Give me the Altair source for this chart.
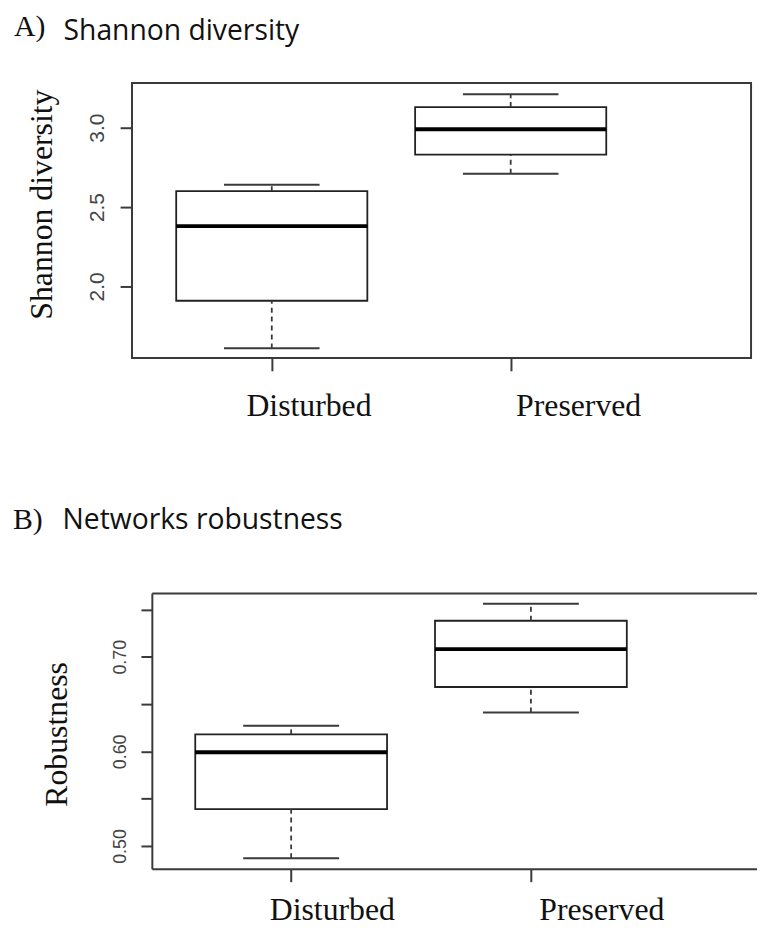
import altair as alt
import pandas as pd

# ---------------- data ----------------
groups = ["Disturbed", "Preserved"]
positions = [1, 2]

shannon_min = [1.61, 2.71]
shannon_q1 = [1.91, 2.83]
shannon_med = [2.38, 2.99]
shannon_q3 = [2.60, 3.13]
shannon_max = [2.64, 3.21]

robust_min = [0.487, 0.641]
robust_q1 = [0.539, 0.668]
robust_med = [0.599, 0.708]
robust_q3 = [0.618, 0.738]
robust_max = [0.627, 0.756]

shannon_ticks = [2.0, 2.5, 3.0]
robust_ticks = [0.50, 0.55, 0.60, 0.65, 0.70, 0.75]

panel_tags = ["A)", "B)"]
panel_titles = ["Shannon diversity", "Networks robustness"]
y_titles = ["Shannon diversity", "Robustness"]

# ---------------- style ----------------
SERIF = "Liberation Serif"
SANS = "Liberation Sans"
TITLE_SANS = "Open Sans"
LINE = "#3a3a3a"
TEXT = "#111111"

x_label_expr = " : ".join(
    f"datum.value == {p} ? '{g}'" for p, g in zip(positions, groups)
) + " : ''"


def make_panel(vmin, q1, med, q3, vmax, tag, title, ytitle, xdomain, ydomain,
               width, height, yticks, ylabel_expr, ylabel_size, ylabel_pad,
               ytick_size, tag_dx, tag_dy, title_dx, title_dy, ytitle_x,
               ytitle_y, xlabel_pad, xoffsets, framed):
    df = pd.DataFrame({"group": groups, "pos": positions, "lo": vmin,
                       "q1": q1, "med": med, "q3": q3, "hi": vmax})
    base = alt.Chart(df).transform_calculate(
        left="datum.pos - 0.4", right="datum.pos + 0.4",
        capl="datum.pos - 0.2", capr="datum.pos + 0.2")
    xs = alt.Scale(domain=xdomain, nice=False, zero=False)
    ys = alt.Scale(domain=ydomain, nice=False, zero=False)

    x_axis = alt.Axis(
        orient="bottom", values=positions, labelExpr=x_label_expr, title=None,
        grid=False, domain=not framed, domainColor=LINE, domainWidth=2,
        tickSize=13, tickWidth=2, tickColor=LINE, labelFont=SERIF,
        labelFontSize=32, labelColor=TEXT, labelPadding=xlabel_pad,
        labelBaseline="alphabetic", labelAlign="center", labelFlush=False,
        labelOffset={"condition": {"test": f"datum.value == {positions[0]}",
                                   "value": xoffsets[0]},
                     "value": xoffsets[1]})
    y_axis = alt.Axis(
        orient="left", values=yticks, labelExpr=ylabel_expr, title=ytitle,
        titleFont=SERIF, titleFontSize=32, titleFontWeight="normal",
        titleColor=TEXT, titleAngle=270, titleAlign="center",
        titleBaseline="alphabetic", titleX=ytitle_x, titleY=ytitle_y,
        labelAngle=270, labelAlign="center", labelBaseline="alphabetic",
        labelFont=SANS, labelFontSize=ylabel_size, labelColor="#444444",
        labelPadding=ylabel_pad, labelOverlap=False, tickSize=ytick_size,
        tickWidth=2, tickColor=LINE, domain=not framed, domainColor=LINE,
        domainWidth=2, grid=False)

    x_other = x_axis if framed else None
    top_axis = x_axis if framed else alt.Axis(
        orient="top", labels=False, ticks=False, domain=True, domainColor=LINE,
        domainWidth=2, title=None, grid=False)

    box = base.mark_rect(fill="white", stroke="#222222", strokeWidth=1.8).encode(
        x=alt.X("left:Q", scale=xs, axis=x_axis),
        x2="right:Q",
        y=alt.Y("q1:Q", scale=ys, axis=y_axis),
        y2="q3:Q")
    median = base.mark_rule(color="black", strokeWidth=4).encode(
        x=alt.X("left:Q", scale=xs, axis=x_other), x2="right:Q",
        y=alt.Y("med:Q", scale=ys, axis=y_axis))
    whisk_hi = base.mark_rule(color=LINE, strokeWidth=1.8, strokeDash=[5, 4]).encode(
        x=alt.X("pos:Q", scale=xs, axis=x_other),
        y=alt.Y("q3:Q", scale=ys, axis=y_axis), y2="hi:Q")
    whisk_lo = base.mark_rule(color=LINE, strokeWidth=1.8, strokeDash=[5, 4]).encode(
        x=alt.X("pos:Q", scale=xs, axis=x_other),
        y=alt.Y("lo:Q", scale=ys, axis=y_axis), y2="q1:Q")
    cap_hi = base.mark_rule(color=LINE, strokeWidth=2).encode(
        x=alt.X("capl:Q", scale=xs, axis=top_axis), x2="capr:Q",
        y=alt.Y("hi:Q", scale=ys, axis=y_axis))
    cap_lo = base.mark_rule(color=LINE, strokeWidth=2).encode(
        x=alt.X("capl:Q", scale=xs, axis=x_other), x2="capr:Q",
        y=alt.Y("lo:Q", scale=ys, axis=y_axis))

    tag_text = alt.Chart(pd.DataFrame({"t": [tag]})).mark_text(
        align="left", baseline="alphabetic", font=SERIF, fontSize=30,
        color=TEXT).encode(x=alt.value(tag_dx), y=alt.value(tag_dy), text="t:N")
    title_text = alt.Chart(pd.DataFrame({"t": [title]})).mark_text(
        align="left", baseline="alphabetic", font=TITLE_SANS, fontSize=28.5,
        color=TEXT).encode(x=alt.value(title_dx), y=alt.value(title_dy), text="t:N")

    if framed:
        view = alt.ViewBackground(stroke=LINE, strokeWidth=2)
    else:
        view = alt.ViewBackground(strokeOpacity=0)

    layer = alt.layer(box, whisk_hi, whisk_lo, cap_hi, cap_lo, median,
                      tag_text, title_text).properties(
        width=width, height=height, view=view)
    if not framed:
        layer = layer.resolve_axis(x="independent")
    return layer


def spacer():
    # tiny invisible first column so that each panel is placed by its left bound
    return alt.Chart(pd.DataFrame({"t": [""]})).mark_text().encode(
        text="t:N").properties(width=1, height=1,
                               view=alt.ViewBackground(strokeOpacity=0))


panel_a = make_panel(
    shannon_min, shannon_q1, shannon_med, shannon_q3, shannon_max,
    panel_tags[0], panel_titles[0], y_titles[0],
    xdomain=[0.415, 3.006], ydomain=[1.55, 3.281], width=624, height=277,
    yticks=shannon_ticks, ylabel_expr="format(datum.value, '.1f')",
    ylabel_size=21, ylabel_pad=17, ytick_size=12,
    tag_dx=-119, tag_dy=-47, title_dx=-69, title_dy=-43,
    ytitle_x=-81, ytitle_y=122, xlabel_pad=45, xoffsets=[37, 68], framed=True)

panel_b = make_panel(
    robust_min, robust_q1, robust_med, robust_q3, robust_max,
    panel_tags[1], panel_titles[1], y_titles[1],
    xdomain=[0.419, 2.943], ydomain=[0.4759, 0.7673], width=610, height=278,
    yticks=robust_ticks,
    ylabel_expr="round(datum.value * 100) % 10 == 0 ? format(datum.value, '.2f') : ''",
    ylabel_size=18, ylabel_pad=16, ytick_size=11,
    tag_dx=-140, tag_dy=-65, title_dx=-90, title_dy=-65,
    ytitle_x=-86, ytitle_y=142, xlabel_pad=38, xoffsets=[41, 71], framed=False)

row_a = alt.hconcat(spacer(), panel_a, spacing=0)
row_b = alt.hconcat(spacer(), panel_b, spacing=0)

chart = alt.vconcat(row_a, row_b, spacing=83).properties(
    padding={"left": 4, "top": 0, "right": 0, "bottom": 0},
    background="white")

chart.save("out.html", embed_options={"renderer": "svg", "actions": False})
